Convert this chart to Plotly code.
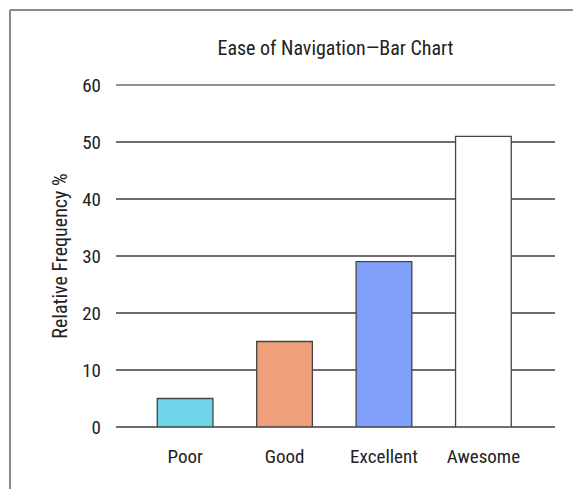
import plotly.graph_objects as go

# Survey results: ease of navigation ratings
categories = ["Poor", "Good", "Excellent", "Awesome"]
rel_freq = [5, 15, 29, 51]
bar_colors = ["#6fd3ea", "#ef9f79", "#80a0f9", "#ffffff"]
y_ticks = [0, 10, 20, 30, 40, 50, 60]

FONT = "Roboto Condensed, Roboto, sans-serif"
TEXT = "#222222"
SIZE = 19

fig = go.Figure(
    go.Bar(
        x=categories,
        y=rel_freq,
        width=0.56,
        marker=dict(
            color=bar_colors,
            line=dict(color="#444444", width=1.3),
        ),
        hoverinfo="x+y",
    )
)

# Outer frame drawn around the whole graphic (top and left edges visible)
W, H = 573, 489
ml, mr, mt, mb = 116, 18, 85, 62
pw, ph = W - ml - mr, H - mt - mb


def px_to_paper_x(px):
    return (px - ml) / pw


def px_to_paper_y(py):
    return (H - mb - py) / ph


frame = dict(type="line", xref="paper", yref="paper",
             line=dict(color="#8a8a8a", width=2), layer="below")
fig.add_shape(**frame, x0=px_to_paper_x(10), x1=px_to_paper_x(600),
              y0=px_to_paper_y(10), y1=px_to_paper_y(10))
fig.add_shape(**frame, x0=px_to_paper_x(10), x1=px_to_paper_x(10),
              y0=px_to_paper_y(10), y1=px_to_paper_y(520))

# Top gridline sits on the upper edge of the plot area (y = 60),
# so it is drawn in paper space to avoid clipping
fig.add_shape(type="line", xref="paper", yref="paper", x0=0, x1=1,
              y0=1, y1=1, line=dict(color="#6e6e6e", width=1.6),
              layer="below")

fig.update_layout(
    width=W,
    height=H,
    margin=dict(l=ml, r=mr, t=mt, b=mb, pad=0),
    paper_bgcolor="white",
    plot_bgcolor="white",
    showlegend=False,
    font=dict(family=FONT, color=TEXT, size=SIZE),
    title=dict(
        text="Ease of Navigation\u2014Bar Chart",
        x=0.5, xref="paper", xanchor="center",
        y=1 - 48 / H, yanchor="middle",
        font=dict(family=FONT, size=20, color=TEXT),
    ),
)

fig.update_xaxes(
    range=[-0.695, 3.72],
    showgrid=False,
    zeroline=False,
    showline=False,
    ticks="",
    tickfont=dict(family=FONT, size=SIZE, color=TEXT),
    ticklabelstandoff=16,
)

fig.update_yaxes(
    range=[0, 60],
    tickvals=y_ticks,
    ticktext=[str(v) for v in y_ticks],
    showgrid=True,
    gridcolor="#6e6e6e",
    gridwidth=1.6,
    zeroline=True,
    zerolinecolor="#6e6e6e",
    zerolinewidth=1.6,
    showline=False,
    ticks="",
    ticklabelstandoff=14,
    tickfont=dict(family=FONT, size=SIZE, color=TEXT),
    title=dict(text="Relative Frequency %", standoff=9,
               font=dict(family=FONT, size=20, color=TEXT)),
)

fig.write_html("out.html")
